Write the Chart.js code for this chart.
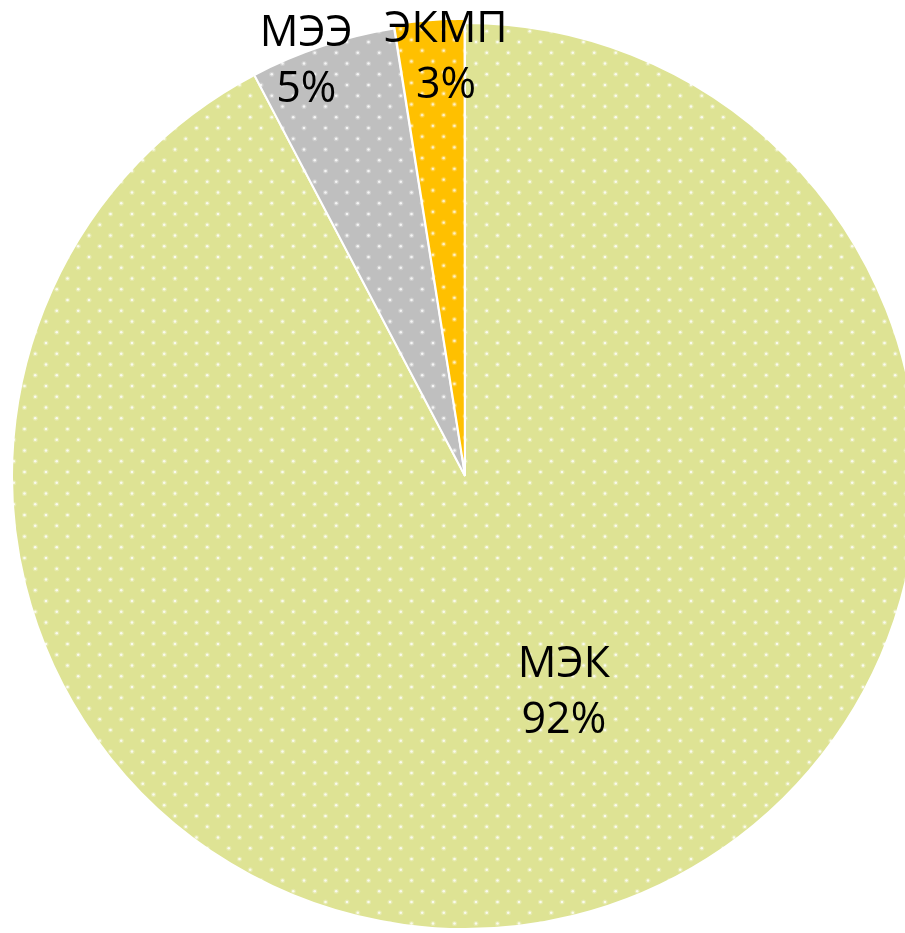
<!doctype html>
<html>

<head>
	<meta charset="utf-8">
	<title>Структура</title>
	<script src="https://cdn.jsdelivr.net/npm/chart.js@4/dist/chart.umd.min.js"></script>
	<style>
		body { margin: 0; background: #fff; }
	</style>
</head>

<body>
	<canvas id="chart-area" width="905" height="933"></canvas>

	<script>
		const labels = ['МЭК', 'МЭЭ', 'ЭКМП'];
		const values = [92.3, 5.2, 2.5];
		const colors = ['#DEE394', '#BFBFBF', '#FFC000'];

		// white dotted fill, tile of 2x2 cells (21.5px), anchored to the canvas origin
		function dotted(color) {
			const tile = document.createElement('canvas');
			tile.width = 43;
			tile.height = 43;
			const c = tile.getContext('2d');
			c.fillStyle = color;
			c.fillRect(0, 0, 43, 43);
			const dots = [];
			for (let i = 0; i < 2; i++) {
				for (let j = 0; j < 2; j++) {
					dots.push([3 + 21.5 * i, 20.5 + 21.5 * j]);
					dots.push([13.75 + 21.5 * i, 9.75 + 21.5 * j]);
				}
			}
			dots.forEach(([x, y]) => {
				for (let dx = -43; dx <= 43; dx += 43) {
					for (let dy = -43; dy <= 43; dy += 43) {
						c.fillStyle = 'rgba(255,255,255,0.22)';
						c.beginPath();
						c.arc(x + dx, y + dy, 2.6, 0, Math.PI * 2);
						c.fill();
						c.fillStyle = 'rgba(255,255,255,0.8)';
						c.beginPath();
						c.arc(x + dx, y + dy, 1.3, 0, Math.PI * 2);
						c.fill();
					}
				}
			});
			return c.createPattern(tile, 'repeat');
		}

		// label placement per slice: shift from mid angle (deg), radius factor
		const labelPlace = [
			{ shift: -10.7, r: 0.525 },
			{ shift: -2.6, r: 0.98 },
			{ shift: 1.9, r: 0.925 }
		];

		const sliceLabels = {
			id: 'sliceLabels',
			afterDatasetsDraw(chart) {
				const ctx = chart.ctx;
				const meta = chart.getDatasetMeta(0);
				const data = chart.data.datasets[0].data;
				const total = data.reduce((a, b) => a + b, 0);
				ctx.save();
				ctx.font = '43px "Open Sans"';
				ctx.fillStyle = '#000';
				ctx.textAlign = 'center';
				ctx.textBaseline = 'middle';
				meta.data.forEach((arc, i) => {
					const p = arc.getProps(['x', 'y', 'startAngle', 'endAngle', 'outerRadius']);
					const a = (p.startAngle + p.endAngle) / 2 + labelPlace[i].shift * Math.PI / 180;
					const r = p.outerRadius * labelPlace[i].r;
					const x = p.x + Math.cos(a) * r;
					const y = p.y + Math.sin(a) * r;
					ctx.fillText(chart.data.labels[i], x, y - 28);
					ctx.fillText(Math.round(data[i] / total * 100) + '%', x, y + 28);
				});
				ctx.restore();
			}
		};

		document.fonts.load('43px "Open Sans"').then(() => {
			const ctx2d = document.getElementById('chart-area').getContext('2d');
			window.myPie = new Chart(ctx2d, {
				type: 'pie',
				data: {
					labels: labels,
					datasets: [{
						data: values,
						backgroundColor: colors.map(dotted),
						borderColor: '#fff',
						borderWidth: 2,
						offset: [0, 0, 9],
						radius: 453
					}]
				},
				options: {
					responsive: false,
					animation: false,
					events: [],
					layout: {
						padding: { left: 25, top: 19 }
					},
					plugins: {
						legend: { display: false },
						tooltip: { enabled: false }
					}
				},
				plugins: [sliceLabels]
			});
		});
	</script>
</body>

</html>
